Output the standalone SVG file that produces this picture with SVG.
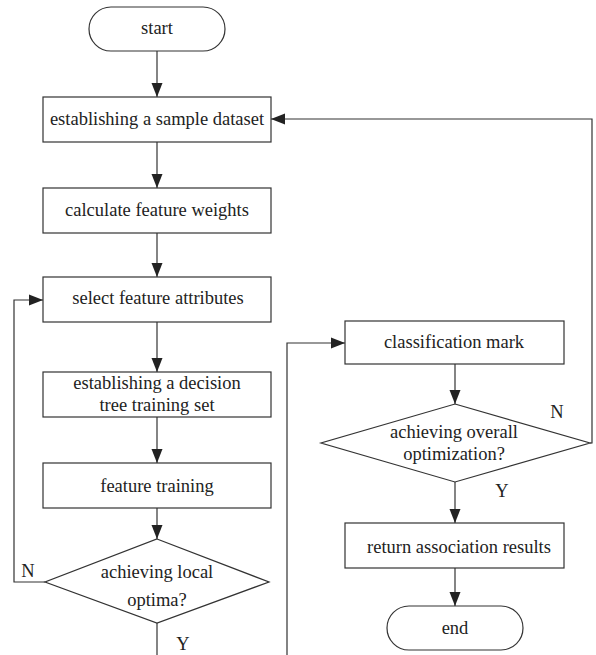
<svg xmlns="http://www.w3.org/2000/svg" width="596" height="655" viewBox="0 0 596 655">
<style>
.n{fill:#fff;stroke:#333;stroke-width:1.2}
.t{font-family:"Liberation Serif","Times New Roman",serif;font-size:18.5px;fill:#222;text-anchor:middle}
.c{fill:none;stroke:#333;stroke-width:1.2}
</style>
<defs>
<marker id="ah" markerUnits="userSpaceOnUse" markerWidth="14" markerHeight="12" refX="14" refY="6" orient="auto">
<path d="M0,0.5 L14,6 L0,11.5 z" fill="#222"/>
</marker>
</defs>
<rect width="596" height="655" fill="#fff"/>
<g id="connectors">
<path class="c" d="M157,51 V97" marker-end="url(#ah)"/>
<path class="c" d="M157,142 V188" marker-end="url(#ah)"/>
<path class="c" d="M157,233 V277" marker-end="url(#ah)"/>
<path class="c" d="M157,322 V372" marker-end="url(#ah)"/>
<path class="c" d="M157,417 V463" marker-end="url(#ah)"/>
<path class="c" d="M157,508 V539" marker-end="url(#ah)"/>
<path class="c" d="M45,582 H14 V300 H43" marker-end="url(#ah)"/>
<path class="c" d="M157,623 V655"/>
<path class="c" d="M287,655 V343 H345" marker-end="url(#ah)"/>
<path class="c" d="M455,364 V404" marker-end="url(#ah)"/>
<path class="c" d="M590,443 H592 V119 H271" marker-end="url(#ah)"/>
<path class="c" d="M455,482 V523" marker-end="url(#ah)"/>
<path class="c" d="M455,568 V606" marker-end="url(#ah)"/>
<text class="t" x="28" y="577">N</text>
<text class="t" x="183" y="650">Y</text>
<text class="t" x="557" y="418">N</text>
<text class="t" x="502" y="497">Y</text>
</g>
<g id="start">
<rect class="n" x="89" y="7" width="136" height="44" rx="22" ry="22"/>
<text class="t" x="157" y="34">start</text>
</g>
<g id="sample">
<rect class="n" x="43" y="97" width="228" height="45"/>
<text class="t" x="157" y="125">establishing a sample dataset</text>
</g>
<g id="weights">
<rect class="n" x="43" y="188" width="228" height="45"/>
<text class="t" x="157" y="216">calculate feature weights</text>
</g>
<g id="select">
<rect class="n" x="43" y="277" width="228" height="45"/>
<text class="t" x="158" y="304">select feature attributes</text>
</g>
<g id="trainset">
<rect class="n" x="43" y="372" width="228" height="45"/>
<text class="t" x="157" y="389">establishing a decision</text>
<text class="t" x="157" y="411">tree training set</text>
</g>
<g id="training">
<rect class="n" x="43" y="463" width="228" height="45"/>
<text class="t" x="157" y="492">feature training</text>
</g>
<g id="local">
<polygon class="n" points="157,539 269,582 157,623 45,582"/>
<text class="t" x="157" y="578">achieving local</text>
<text class="t" x="157" y="606">optima?</text>
</g>
<g id="classmark">
<rect class="n" x="345" y="321" width="219" height="43"/>
<text class="t" x="454" y="348">classification mark</text>
</g>
<g id="overall">
<polygon class="n" points="455,404 590,443 455,482 321,443"/>
<text class="t" x="454" y="438">achieving overall</text>
<text class="t" x="454" y="460">optimization?</text>
</g>
<g id="return">
<rect class="n" x="345" y="523" width="219" height="45"/>
<text class="t" x="459" y="553">return association results</text>
</g>
<g id="end">
<rect class="n" x="387" y="606" width="136" height="44" rx="22" ry="22"/>
<text class="t" x="455" y="634">end</text>
</g>
</svg>
